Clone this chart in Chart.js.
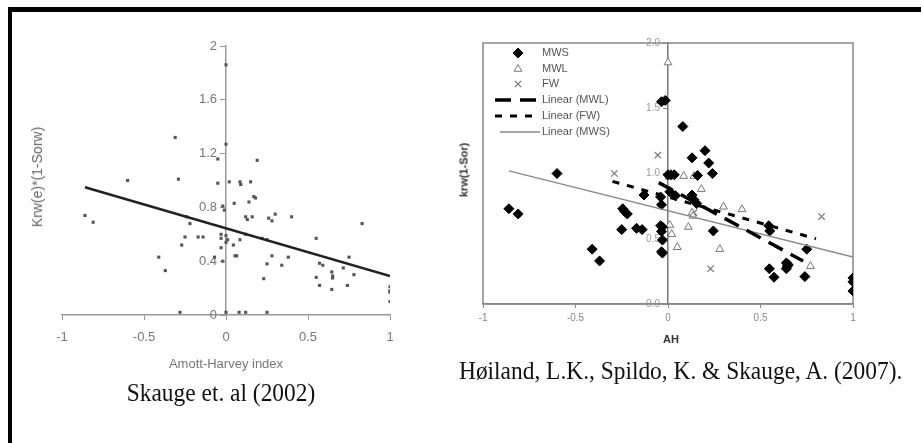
<!DOCTYPE html>
<html>
<head>
<meta charset="utf-8">
<script src="https://cdn.jsdelivr.net/npm/chart.js@4.4.1/dist/chart.umd.min.js"></script>
<style>
  body { margin: 0; width: 921px; height: 443px; background: #fff; position: relative; overflow: hidden;
         font-family: "Liberation Sans", Arial, sans-serif; }
  #frame { position: absolute; left: 8px; top: 7px; width: 940px; height: 460px;
           border-top: 5px solid #000; border-left: 4px solid #000; }
  canvas { position: absolute; }
  .txt { position: absolute; white-space: nowrap; line-height: 1; }
  .cap { font-family: "Liberation Serif", "Times New Roman", serif; font-size: 26px; line-height: 26px; color: #111; }
</style>
</head>
<body>
<div id="frame"></div>
<canvas id="leftChart" width="400" height="350" style="left:20px; top:30px;"></canvas>
<canvas id="rightChart" width="450" height="330" style="left:450px; top:30px;"></canvas>

<div class="txt" style="left:226px; top:363px; transform:translate(-50%,-50%); font-size:13px; color:#777;">Amott-Harvey index</div>
<div class="txt" style="left:37px; top:177px; transform:translate(-50%,-50%) rotate(-90deg); font-size:14px; color:#666;">Krw(e)*(1-Sorw)</div>
<div class="txt" style="left:671px; top:339px; transform:translate(-50%,-50%); font-size:11px; font-weight:bold; color:#333;">AH</div>
<div class="txt" style="left:464px; top:170px; transform:translate(-50%,-50%) rotate(-90deg); font-size:11px; font-weight:bold; color:#333;">krw(1-Sor)</div>

<div class="txt cap" style="left:221px; top:380px; transform:translateX(-50%) scaleX(0.9);">Skauge et. al (2002)</div>
<div class="txt cap" style="left:459px; top:358px; transform-origin:left top; transform:scaleX(0.9);">Høiland, L.K., Spildo, K. &amp; Skauge, A. (2007).</div>

<script>
// --- Skauge et al. (2002): Krw(e)*(1-Sorw) gegen Amott-Harvey-Index ---
const skaugeX = [-0.86, -0.81, -0.60, -0.31, -0.29, -0.24, -0.22, -0.25, -0.27, -0.17, -0.14, -0.41, -0.37, -0.28,
                 -0.05, -0.05, 0.00, 0.00, -0.03, -0.03, -0.03, -0.07, -0.02, -0.01, 0.02, 0.085, 0.09, 0.15, 0.19,
                 0.05, 0.14, 0.17, 0.18, 0.12, 0.13, 0.16, 0.26, 0.28, 0.30, 0.40, 0.83, 0.55, 0.00, 0.00, 0.01,
                 0.045, 0.085, 0.12, 0.22, 0.25, 0.055, 0.065, 0.28, 0.25, 0.38, 0.34, 0.23, 0.57, 0.59, 0.75,
                 0.715, 0.78, 0.645, 0.65, 0.65, 0.55, 0.57, 0.645, 0.74, 1.00, 1.00, 1.00, 1.00, 0.00, 0.08,
                 0.12, 0.25, -0.02];
const skaugeY = [0.74, 0.69, 1.00, 1.32, 1.01, 0.73, 0.68, 0.58, 0.52, 0.58, 0.58, 0.43, 0.33, 0.02,
                 0.98, 1.16, 1.27, 1.86, 0.60, 0.57, 0.50, 0.43, 0.81, 0.78, 0.99, 0.99, 0.97, 0.99, 1.15,
                 0.83, 0.84, 0.88, 0.87, 0.73, 0.71, 0.73, 0.72, 0.70, 0.75, 0.73, 0.68, 0.57, 0.59, 0.54, 0.56,
                 0.52, 0.56, 0.60, 0.57, 0.56, 0.44, 0.44, 0.44, 0.38, 0.43, 0.37, 0.27, 0.385, 0.37, 0.43,
                 0.35, 0.30, 0.32, 0.29, 0.275, 0.28, 0.22, 0.19, 0.22, 0.21, 0.18, 0.17, 0.10, 0.02, 0.02,
                 0.02, 0.02, 0.40];
const skaugeFitX = [-0.86, 1.0];
const skaugeFitY = [0.95, 0.29];
const skaugeYTicks = [0, 0.4, 0.8, 1.2, 1.6, 2];

// --- Høiland et al. (2007) ---
const mwsX = [-0.86, -0.81, -0.60, -0.245, -0.235, -0.22, -0.25, -0.17, -0.14, -0.41, -0.37, -0.13, -0.04, -0.035,
              -0.04, -0.035, -0.03, -0.035, -0.03, -0.035, -0.015, 0.00, 0.08, 0.20, 0.13, 0.22, 0.24, 0.016,
              0.034, 0.16, 0.01, 0.04, 0.13, 0.14, 0.155, 0.245, -0.03, 0.545, 0.55, 0.75, 0.548, 0.573,
              0.64, 0.645, 0.64, 0.65, 0.74, 1.00, 1.00, 1.00];
const mwsY = [0.73, 0.69, 1.00, 0.73, 0.71, 0.69, 0.57, 0.58, 0.57, 0.42, 0.33, 0.835, 0.82, 0.76,
              0.60, 0.555, 0.49, 0.40, 0.39, 1.55, 1.56, 0.99, 1.36, 1.175, 1.12, 1.08, 1.00, 0.99,
              0.99, 0.985, 0.86, 0.83, 0.835, 0.80, 0.77, 0.56, 0.59, 0.60, 0.56, 0.42, 0.27, 0.205,
              0.315, 0.29, 0.27, 0.30, 0.21, 0.20, 0.17, 0.10];
const mwlX = [0.00, 0.085, 0.14, 0.18, 0.005, 0.13, 0.135, 0.30, 0.40, 0.01, 0.02, 0.11, 0.05, 0.28, 0.77];
const mwlY = [1.85, 0.98, 0.98, 0.88, 0.975, 0.70, 0.675, 0.745, 0.725, 0.605, 0.535, 0.59, 0.435, 0.42, 0.29];
const fwX = [-0.055, -0.29, 0.83, 0.23, 0.14];
const fwY = [1.14, 1.00, 0.67, 0.27, 0.70];
const fitMwlX = [-0.05, 0.73], fitMwlY = [0.93, 0.33];
const fitFwX = [-0.30, 0.80], fitFwY = [0.94, 0.50];
const fitMwsX = [-0.86, 1.0], fitMwsY = [1.02, 0.36];
const hoilandLabels = ['MWS', 'MWL', 'FW', 'Linear (MWL)', 'Linear (FW)', 'Linear (MWS)'];

const pts = (xs, ys) => xs.map((x, i) => ({ x, y: ys[i] }));
const sans = '"Liberation Sans", Arial, sans-serif';

// Y-Beschriftung links neben der Achse bei x = 0 (Chart.js zentriert sie sonst)
const yLabels = {
    id: 'yLabels',
    beforeDatasetsDraw(chart, args, opts) {
        const { ctx } = chart;
        const ys = chart.scales.y;
        const x0 = chart.scales.x.getPixelForValue(0);
        ctx.save();
        ctx.font = opts.size + 'px ' + sans;
        ctx.fillStyle = opts.color;
        ctx.textAlign = 'right';
        ctx.textBaseline = 'middle';
        ys.ticks.forEach(t => {
            const txt = opts.decimals ? t.value.toFixed(opts.decimals) : String(Math.round(t.value * 10) / 10);
            ctx.fillText(txt, x0 - opts.offset, ys.getPixelForValue(t.value));
        });
        ctx.restore();
    }
};

// linke Grafik
new Chart(document.getElementById('leftChart'), {
    type: 'scatter',
    data: {
        datasets: [
            { data: pts(skaugeFitX, skaugeFitY), showLine: true, borderColor: '#222', borderWidth: 2.5,
              pointRadius: 0, order: 0 },
            { data: pts(skaugeX, skaugeY), pointStyle: 'rect', pointRadius: 2.2,
              backgroundColor: '#555', borderColor: '#555', borderWidth: 0, order: 1 }
        ]
    },
    options: {
        responsive: false, animation: false, devicePixelRatio: 1,
        layout: { padding: { left: 42, right: 30, top: 16, bottom: 5 } },
        plugins: {
            legend: { display: false }, tooltip: { enabled: false },
            yLabels: { size: 13, color: '#777', offset: 9, decimals: 0 }
        },
        scales: {
            x: {
                type: 'linear', min: -1, max: 1,
                afterFit: s => { s.height = 60; },
                ticks: { stepSize: 0.5, color: '#777', padding: 10, font: { family: sans, size: 13 },
                         callback: v => String(v) },
                grid: { drawOnChartArea: false, tickLength: 5, color: '#999' },
                border: { color: '#999', width: 1.5 }
            },
            y: {
                type: 'linear', min: 0, max: 2, position: { x: 0 },
                afterBuildTicks: s => { s.ticks = skaugeYTicks.map(v => ({ value: v })); },
                ticks: { display: false },
                grid: { drawOnChartArea: false, tickLength: 5, color: '#999' },
                border: { color: '#999', width: 1.5 }
            }
        }
    },
    plugins: [yLabels]
});

// Rahmen und Legende für die rechte Grafik
const boxAndLegend = {
    id: 'boxAndLegend',
    beforeDatasetsDraw(chart) {
        const { ctx, chartArea: a } = chart;
        ctx.save();
        ctx.strokeStyle = '#888';
        ctx.lineWidth = 1.5;
        ctx.strokeRect(a.left, a.top, a.right - a.left, a.bottom - a.top);
        ctx.restore();
    },
    afterDraw(chart) {
        const ctx = chart.ctx;
        const rowY = [23, 39, 54, 70, 86, 102];
        ctx.save();
        chart.data.datasets.forEach((ds, i) => {
            const y = rowY[i];
            if (ds.showLine) {
                ctx.strokeStyle = ds.borderColor;
                ctx.lineWidth = ds.borderWidth;
                ctx.setLineDash(ds.borderDash || []);
                ctx.beginPath();
                ctx.moveTo(ds.legendStart, y);
                ctx.lineTo(90, y);
                ctx.stroke();
                ctx.setLineDash([]);
            } else {
                ctx.fillStyle = ds.backgroundColor;
                ctx.strokeStyle = ds.borderColor;
                ctx.lineWidth = ds.borderWidth;
                Chart.helpers.drawPoint(ctx, {
                    pointStyle: ds.pointStyle, radius: ds.pointRadius, borderWidth: ds.borderWidth, rotation: 0
                }, 68, y);
            }
            ctx.fillStyle = '#555';
            ctx.font = '11px ' + sans;
            ctx.textAlign = 'left';
            ctx.textBaseline = 'middle';
            ctx.fillText(ds.label, 92, y);
        });
        ctx.restore();
    }
};

new Chart(document.getElementById('rightChart'), {
    type: 'scatter',
    data: {
        datasets: [
            { label: hoilandLabels[0], data: pts(mwsX, mwsY), pointStyle: 'rectRot', pointRadius: 5,
              backgroundColor: '#000', borderColor: '#000', borderWidth: 1, order: 1 },
            { label: hoilandLabels[1], data: pts(mwlX, mwlY), pointStyle: 'triangle', pointRadius: 4.5,
              backgroundColor: '#fff', borderColor: '#777', borderWidth: 1, order: 1 },
            { label: hoilandLabels[2], data: pts(fwX, fwY), pointStyle: 'crossRot', pointRadius: 4.5,
              backgroundColor: '#777', borderColor: '#777', borderWidth: 1.2, order: 1 },
            { label: hoilandLabels[3], data: pts(fitMwlX, fitMwlY), showLine: true, borderColor: '#000',
              borderWidth: 3.5, borderDash: [16, 9], pointRadius: 0, order: 0, legendStart: 45 },
            { label: hoilandLabels[4], data: pts(fitFwX, fitFwY), showLine: true, borderColor: '#000',
              borderWidth: 3, borderDash: [7, 8], pointRadius: 0, order: 0, legendStart: 45 },
            { label: hoilandLabels[5], data: pts(fitMwsX, fitMwsY), showLine: true, borderColor: '#888',
              borderWidth: 1.3, pointRadius: 0, order: 0, legendStart: 50 }
        ]
    },
    options: {
        responsive: false, animation: false, devicePixelRatio: 1,
        layout: { padding: { left: 33, right: 47, top: 13, bottom: 16 } },
        plugins: {
            legend: { display: false }, tooltip: { enabled: false },
            yLabels: { size: 10, color: '#999', offset: 8, decimals: 1 }
        },
        scales: {
            x: {
                type: 'linear', min: -1, max: 1,
                afterFit: s => { s.height = 40; },
                ticks: { stepSize: 0.5, color: '#888', padding: 4, font: { family: sans, size: 10 },
                         callback: v => String(v) },
                grid: { drawOnChartArea: false, tickLength: 4, color: '#888' },
                border: { color: '#888', width: 1.5 }
            },
            y: {
                type: 'linear', min: 0, max: 2, position: { x: 0 },
                ticks: { stepSize: 0.5, display: false },
                grid: { drawOnChartArea: false, tickLength: 4, color: '#888' },
                border: { color: '#777', width: 1.5 }
            }
        }
    },
    plugins: [yLabels, boxAndLegend]
});
</script>
</body>
</html>
